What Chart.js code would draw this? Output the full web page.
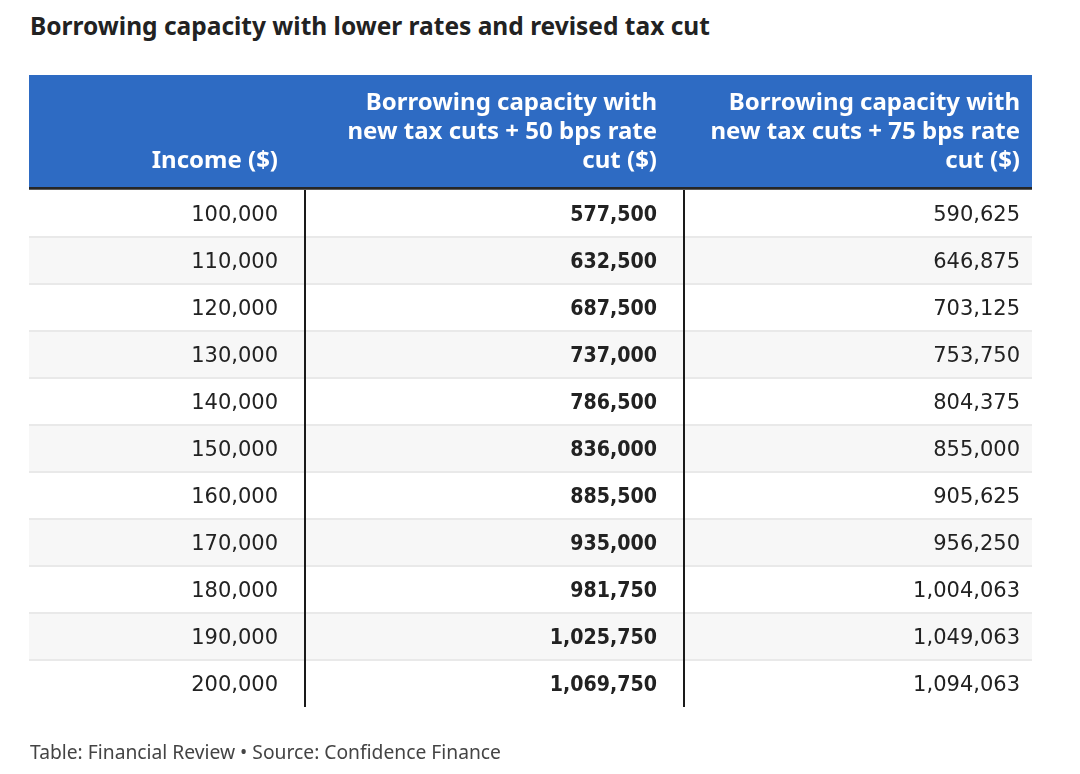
<!DOCTYPE html>
<html>
<head>
<meta charset="utf-8">
<script src="https://cdn.jsdelivr.net/npm/chart.js@4/dist/chart.umd.min.js"></script>
<style>
  body { margin: 0; background: #fff; width: 1080px; height: 774px; position: relative; overflow: hidden; }
  #title { position: absolute; left: 30px; top: 9px; font: bold 24.5px "Noto Sans", sans-serif; color: #222; white-space: nowrap; }
  #footer { position: absolute; left: 30px; top: 738px; font: 19.25px "Noto Sans", sans-serif; color: #444; white-space: nowrap; }
  #table { position: absolute; left: 0; top: 0; }
</style>
</head>
<body>
<div id="title">Borrowing capacity with lower rates and revised tax cut</div>
<canvas id="table" width="1080" height="774"></canvas>
<div id="footer">Table: Financial Review • Source: Confidence Finance</div>
<script>
// Datos de la tabla
const incomes = [100000, 110000, 120000, 130000, 140000, 150000, 160000, 170000, 180000, 190000, 200000];
const cut50 = [577500, 632500, 687500, 737000, 786500, 836000, 885500, 935000, 981750, 1025750, 1069750];
const cut75 = [590625, 646875, 703125, 753750, 804375, 855000, 905625, 956250, 1004063, 1049063, 1094063];
const headers = [
    ['Income ($)'],
    ['Borrowing capacity with', 'new tax cuts + 50 bps rate', 'cut ($)'],
    ['Borrowing capacity with', 'new tax cuts + 75 bps rate', 'cut ($)']
];

// Maquetación (unidades del eje x = px de tabla, eje y = filas)
const COL_EDGES = [0, 276, 655, 1003];
const CELL_PAD = [27, 27, 12];
const HEADER_ROWS = 115 / 47;
const fmt = n => n.toLocaleString('en-US');
const columns = [incomes, cut50, cut75];

const tablePlugin = {
    id: 'tablePlugin',
    beforeDatasetsDraw(chart) {
        const { ctx, scales: { x, y } } = chart;
        const left = x.getPixelForValue(COL_EDGES[0]);
        const right = x.getPixelForValue(COL_EDGES[3]);
        const top = y.getPixelForValue(-HEADER_ROWS);
        const hBottom = y.getPixelForValue(0);
        ctx.save();
        ctx.fillStyle = '#2e6bc3';
        ctx.fillRect(left, top, right - left, hBottom - top);
        ctx.fillStyle = '#262626';
        ctx.fillRect(left, hBottom - 3, right - left, 3);
        ctx.restore();
    },
    afterDatasetsDraw(chart) {
        const { ctx, scales: { x, y } } = chart;
        const left = x.getPixelForValue(COL_EDGES[0]);
        const right = x.getPixelForValue(COL_EDGES[3]);
        ctx.save();
        // separadores de fila
        ctx.fillStyle = '#e9e9e9';
        for (let i = 1; i < incomes.length; i++) {
            const py = Math.round(y.getPixelForValue(i));
            ctx.fillRect(left, py - 1, right - left, 2);
        }
        // líneas verticales
        ctx.fillStyle = '#1a1a1a';
        for (let c = 1; c <= 2; c++) {
            const px = Math.round(x.getPixelForValue(COL_EDGES[c]));
            ctx.fillRect(px - 1, y.getPixelForValue(0), 2, y.getPixelForValue(incomes.length) - y.getPixelForValue(0));
        }
        // cabecera
        ctx.fillStyle = '#ffffff';
        ctx.textAlign = 'right';
        ctx.textBaseline = 'middle';
        ctx.font = 'bold 24px "Noto Sans", sans-serif';
        const hBottom = y.getPixelForValue(0);
        headers.forEach((lines, c) => {
            const tx = x.getPixelForValue(COL_EDGES[c + 1] - CELL_PAD[c]);
            lines.slice().reverse().forEach((line, k) => {
                ctx.fillText(line, tx, hBottom - 29 - k * 29);
            });
        });
        // celdas
        ctx.fillStyle = '#222222';
        columns.forEach((col, c) => {
            const tx = x.getPixelForValue(COL_EDGES[c + 1] - CELL_PAD[c]);
            col.forEach((v, i) => {
                const ty = y.getPixelForValue(i + 0.5) + 2;
                if (c === 1) {
                    // negrita algo más estrecha
                    ctx.save();
                    ctx.font = 'bold 20.5px "DejaVu Sans", sans-serif';
                    ctx.translate(tx, ty);
                    ctx.scale(0.93, 1);
                    ctx.fillText(fmt(v), 0, 0);
                    ctx.restore();
                } else {
                    ctx.font = '21px "DejaVu Sans", sans-serif';
                    ctx.fillText(fmt(v), tx, ty);
                }
            });
        });
        ctx.restore();
    }
};

new Chart(document.getElementById('table'), {
    type: 'bar',
    data: {
        datasets: [{
            data: incomes.map((v, i) => ({ x: [COL_EDGES[0], COL_EDGES[3]], y: i + 0.5 })),
            backgroundColor: incomes.map((v, i) => i % 2 ? '#f7f7f7' : '#ffffff'),
            barPercentage: 1,
            categoryPercentage: 1,
            borderWidth: 0
        }]
    },
    options: {
        indexAxis: 'y',
        responsive: false,
        animation: false,
        layout: { padding: { left: 29, right: 48, top: 75, bottom: 67 } },
        plugins: { legend: { display: false }, tooltip: { enabled: false } },
        scales: {
            x: { type: 'linear', min: COL_EDGES[0], max: COL_EDGES[3], display: false },
            y: { type: 'linear', reverse: true, offset: false, min: -HEADER_ROWS, max: incomes.length, display: false,
                 ticks: { stepSize: 1, includeBounds: false } }
        }
    },
    plugins: [tablePlugin]
});
</script>
</body>
</html>
